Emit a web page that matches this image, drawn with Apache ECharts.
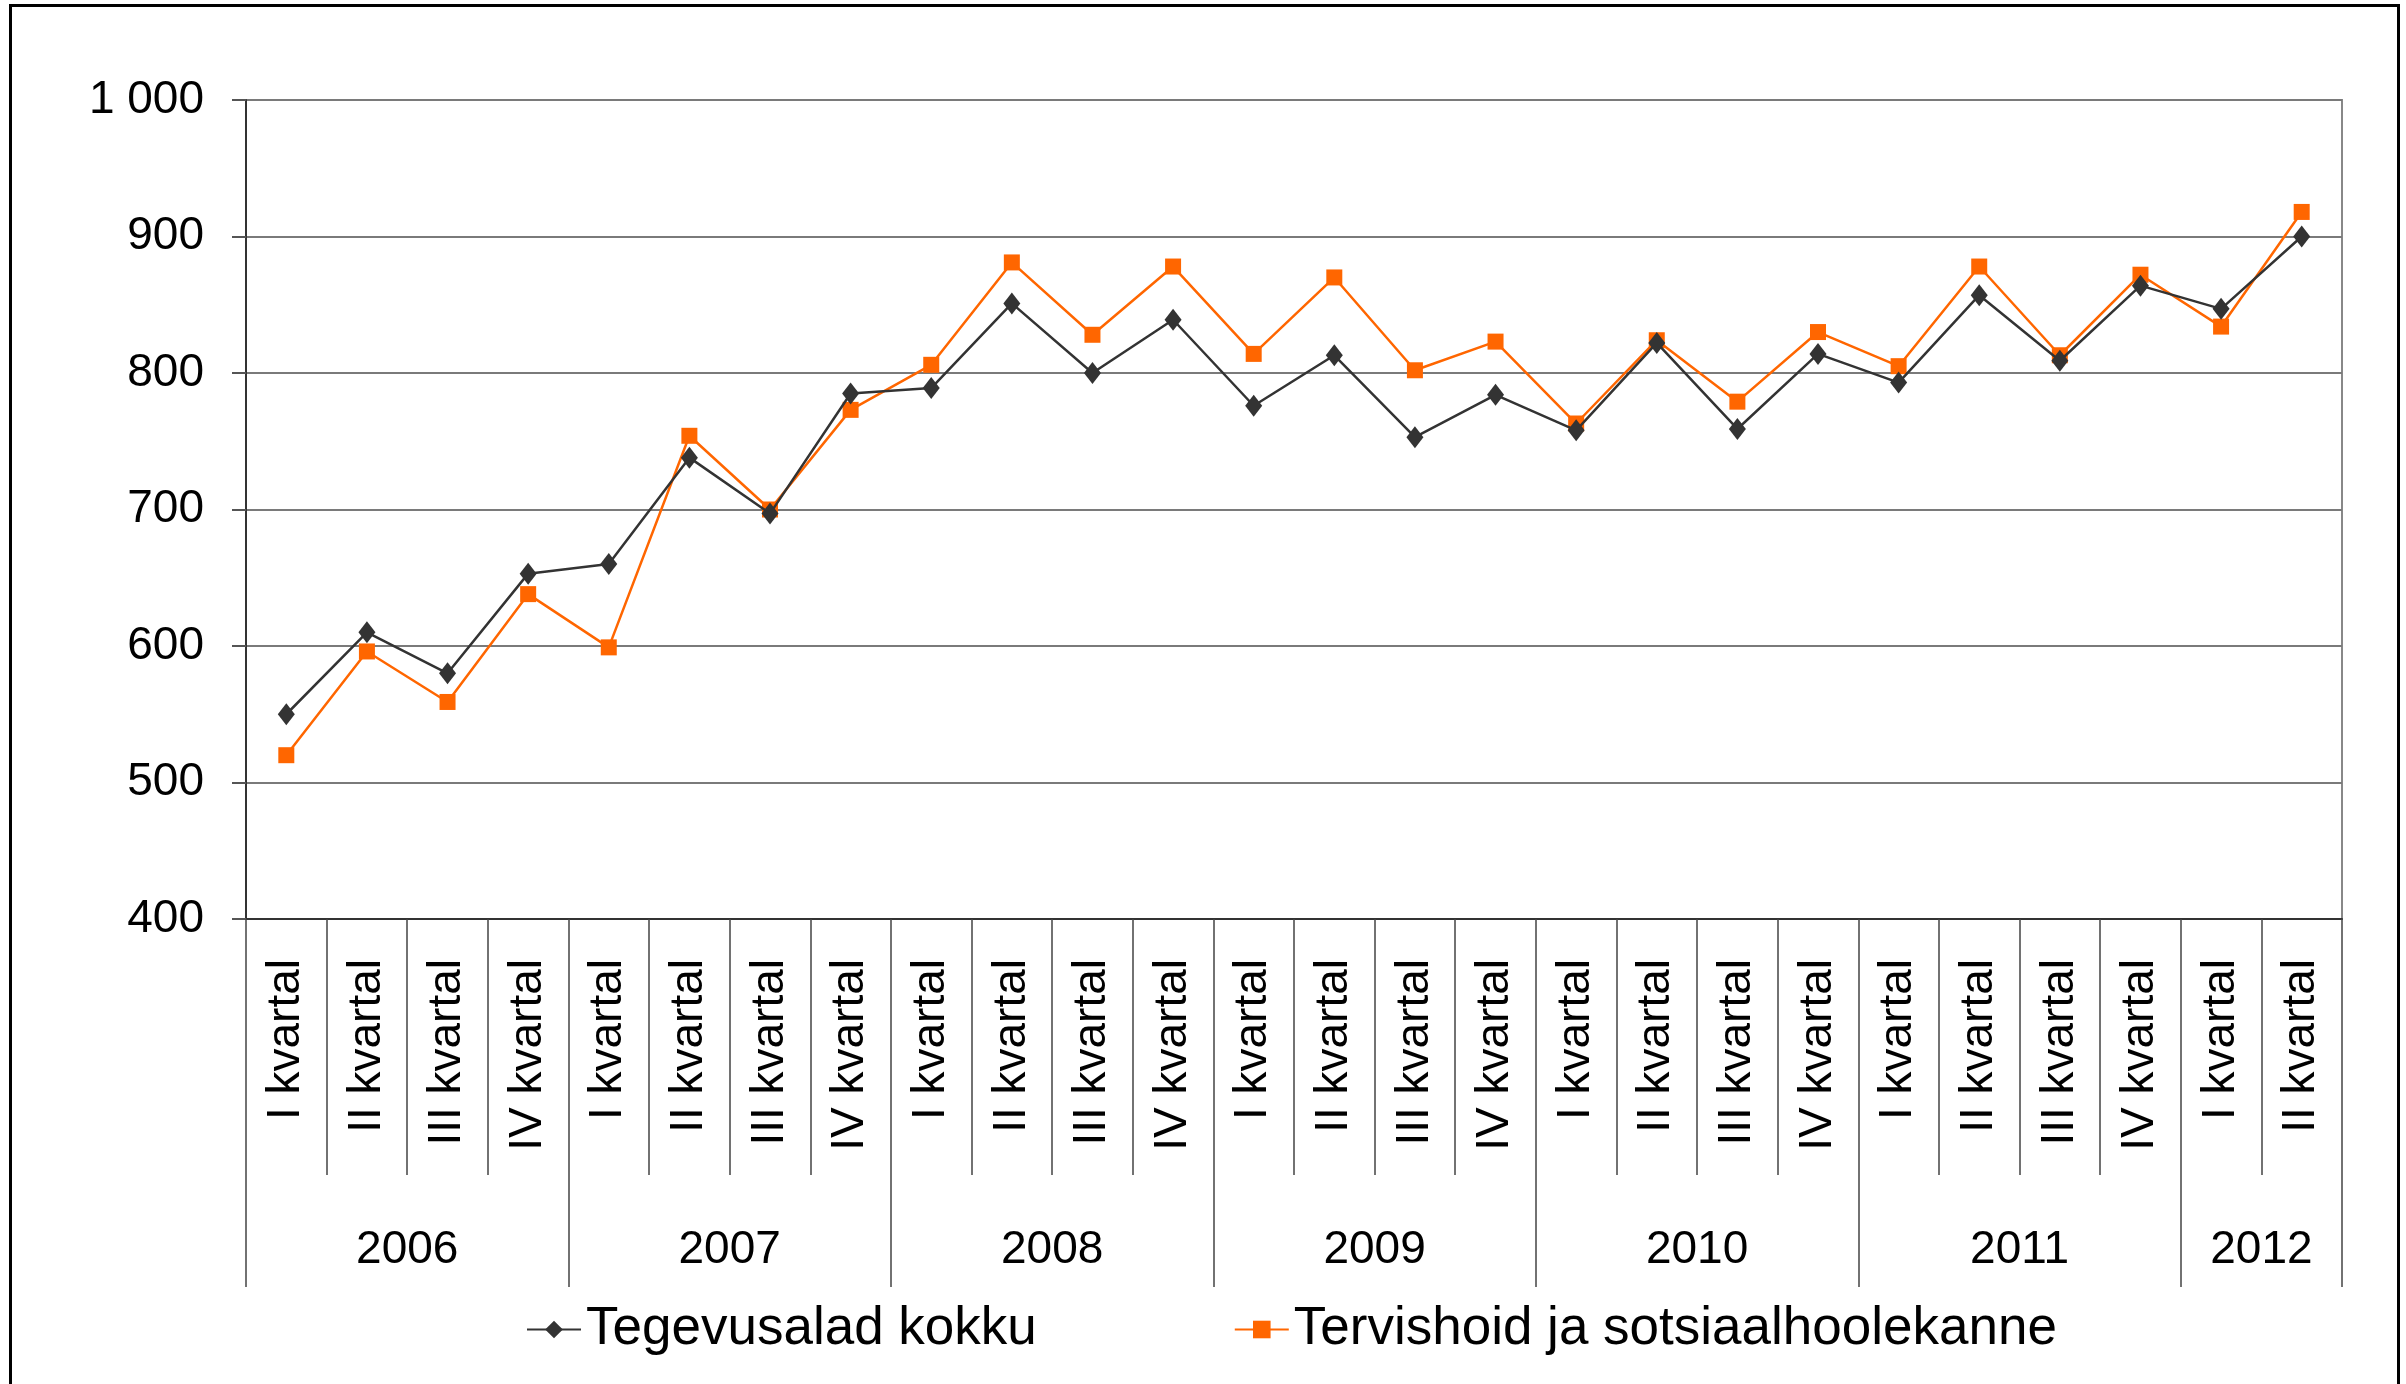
<!DOCTYPE html>
<html>
<head>
    <meta charset="utf-8">
    <title>Tegevusalad</title>
    <script src="https://cdn.jsdelivr.net/npm/echarts@6/dist/echarts.min.js"></script>
    <style>
        body { margin: 0; overflow: hidden; background: #fff; }
        #frame { position: absolute; left: 9px; top: 4px; width: 2385px; height: 1420px;
                 border: 3px solid #000; pointer-events: none; }
    </style>
</head>
<body>
    <div id="main" style="width: 2406px;height:1384px;"></div>
    <div id="frame"></div>
    <script type="text/javascript">
        var years = ['2006', '2007', '2008', '2009', '2010', '2011', '2012'];
        var quartersPerYear = [4, 4, 4, 4, 4, 4, 2];
        var quarterNames = ['I kvartal', 'II kvartal', 'III kvartal', 'IV kvartal'];

        var kokku = [550, 610, 580, 653, 660, 738, 697, 785, 789, 851, 800, 839, 776,
                     813, 753, 784, 758, 822, 759, 814, 793, 857, 809, 864, 847, 900];
        var tervishoid = [520, 596, 559, 638, 599, 754, 700, 773, 806, 881, 828, 878, 814,
                          870, 802, 823, 763, 824, 779, 830, 805, 878, 813, 872, 834, 918];

        // kvartalid ja aastate keskpunktid
        var categories = [];
        var yearCenters = {};
        var pos = 0;
        for (var i = 0; i < years.length; i++) {
            for (var q = 0; q < quartersPerYear[i]; q++) {
                categories.push(quarterNames[q]);
            }
            yearCenters[pos + quartersPerYear[i] / 2] = years[i];
            pos += quartersPerYear[i];
        }

        var myChart = echarts.init(document.getElementById('main'));
        var font = '"Liberation Sans", Arial, sans-serif';
        var sepColor = '#444';

        var option = {
            animation: false,
            grid: {
                left: 246, right: 64, top: 100, bottom: 465,
                outerBoundsMode: 'none',
                containLabel: false,
                show: true, borderColor: '#888', borderWidth: 2
            },
            legend: {
                left: 521,
                top: 1298,
                itemWidth: 54,
                itemHeight: 22,
                itemGap: 197,
                textStyle: { fontFamily: font, fontSize: 53, color: '#000' },
                data: ['Tegevusalad kokku', 'Tervishoid ja sotsiaalhoolekanne']
            },
            xAxis: [
                {
                    type: 'category',
                    position: 'bottom',
                    data: categories,
                    axisLine: { show: true, lineStyle: { color: '#333', width: 2 } },
                    axisTick: { show: true, interval: 0, length: 256, lineStyle: { color: sepColor, width: 1.5 } },
                    axisLabel: {
                        interval: 0, rotate: 90, margin: 40,
                        fontFamily: font, fontSize: 46, color: '#000'
                    }
                },
                {
                    type: 'category',
                    position: 'bottom',
                    offset: 0,
                    data: categories,
                    axisLine: { show: false },
                    axisTick: { show: true, interval: 3, length: 368, lineStyle: { color: sepColor, width: 1.5 } },
                    axisLabel: { show: false }
                },
                {
                    type: 'value',
                    position: 'bottom',
                    offset: 0,
                    min: 0,
                    max: categories.length,
                    interval: 1,
                    axisLine: { show: false },
                    axisTick: { show: false },
                    splitLine: { show: false },
                    axisLabel: {
                        margin: 308,
                        fontFamily: font, fontSize: 46, color: '#000',
                        formatter: function (v) { return yearCenters[v] || ''; }
                    }
                }
            ],
            yAxis: {
                type: 'value',
                min: 400,
                max: 1000,
                interval: 100,
                axisLine: { show: true, lineStyle: { color: '#333', width: 2 } },
                axisTick: { show: true, length: 14, lineStyle: { color: '#555', width: 2 } },
                splitLine: { lineStyle: { color: '#7a7a7a', width: 2 } },
                axisLabel: {
                    margin: 42,
                    fontFamily: font, fontSize: 46, color: '#000',
                    formatter: function (v) { return v >= 1000 ? '1 ' + String(v).slice(1) : String(v); }
                }
            },
            series: [
                {
                    name: 'Tegevusalad kokku',
                    type: 'line',
                    data: kokku,
                    symbol: 'diamond',
                    symbolSize: [17, 22],
                    itemStyle: { color: '#333333' },
                    lineStyle: { color: '#333333', width: 2.5 },
                    z: 3
                },
                {
                    name: 'Tervishoid ja sotsiaalhoolekanne',
                    type: 'line',
                    data: tervishoid,
                    symbol: 'rect',
                    symbolSize: 16,
                    itemStyle: { color: '#FF6600' },
                    lineStyle: { color: '#FF6600', width: 2.5 },
                    z: 2
                }
            ]
        };
        myChart.setOption(option);
    </script>
</body>
</html>
